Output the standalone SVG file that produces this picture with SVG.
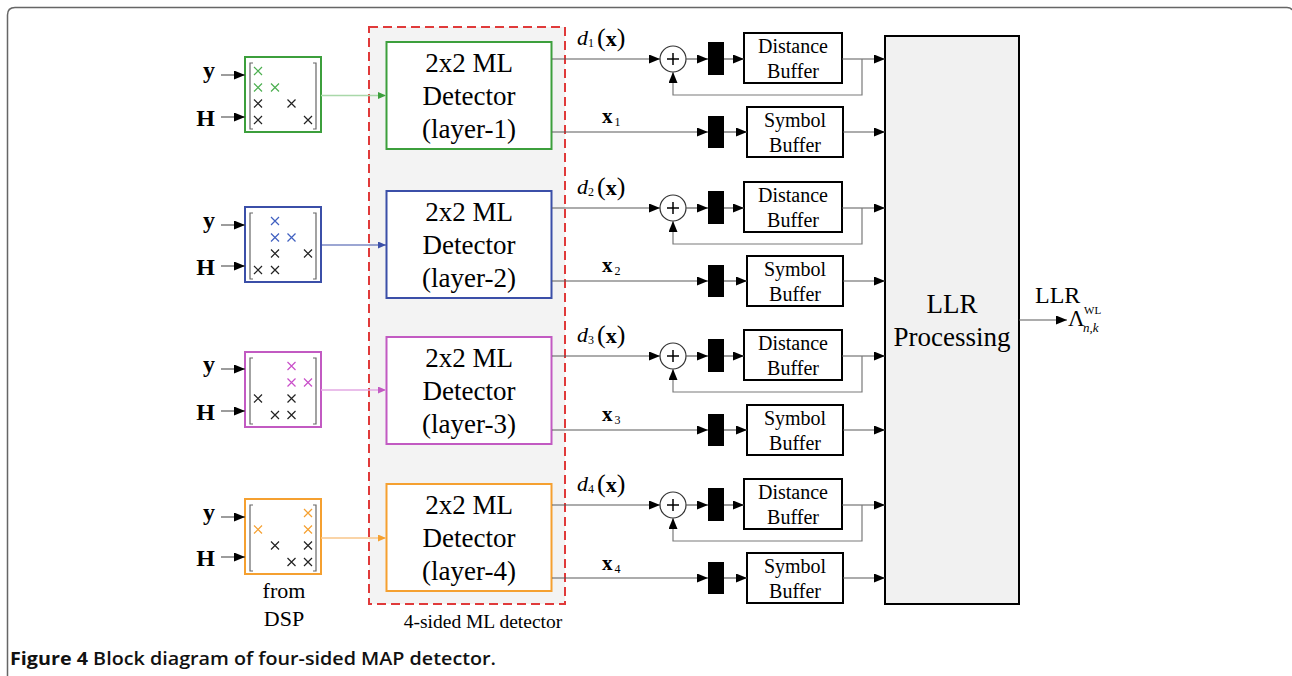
<svg xmlns="http://www.w3.org/2000/svg" width="1292" height="676" viewBox="0 0 1292 676">
  <style>
    .serif { font-family: "Liberation Serif", "Times New Roman", serif; fill: #000; }
    .lbl { font-size: 27px; text-anchor: middle; }
    .buf { font-size: 20px; text-anchor: middle; }
    .in { font-size: 24px; font-weight: bold; text-anchor: end; }
    .wire { stroke: #5a5a5a; stroke-width: 1.2; fill: none; }
    .fb { stroke: #7a7a7a; stroke-width: 1.2; fill: none; }
    .box { fill: #fff; stroke: #000; stroke-width: 2; }
    .bar { fill: #000; }
    .brk { stroke: #666; stroke-width: 1.2; fill: none; }
    .k { stroke: #222; stroke-width: 1.2; }
    .g { stroke: #4caf50; stroke-width: 1.2; }
    .b { stroke: #4060c0; stroke-width: 1.2; }
    .m { stroke: #c94fc9; stroke-width: 1.2; }
    .o { stroke: #f5a030; stroke-width: 1.2; }
  </style>
  <defs>
    <marker id="ah" markerUnits="userSpaceOnUse" markerWidth="11" markerHeight="9" refX="11" refY="4.5" orient="auto">
      <path d="M0,0 L11,4.5 L0,9 z" fill="#000"/>
    </marker>
    <marker id="ahG" markerUnits="userSpaceOnUse" markerWidth="8" markerHeight="7" refX="8" refY="3.5" orient="auto">
      <path d="M0,0 L8,3.5 L0,7 z" fill="#3c9f3c"/>
    </marker>
    <marker id="ahB" markerUnits="userSpaceOnUse" markerWidth="8" markerHeight="7" refX="8" refY="3.5" orient="auto">
      <path d="M0,0 L8,3.5 L0,7 z" fill="#3b4fa8"/>
    </marker>
    <marker id="ahM" markerUnits="userSpaceOnUse" markerWidth="8" markerHeight="7" refX="8" refY="3.5" orient="auto">
      <path d="M0,0 L8,3.5 L0,7 z" fill="#c25ac2"/>
    </marker>
    <marker id="ahO" markerUnits="userSpaceOnUse" markerWidth="8" markerHeight="7" refX="8" refY="3.5" orient="auto">
      <path d="M0,0 L8,3.5 L0,7 z" fill="#f5a030"/>
    </marker>
    <path id="xc" d="M-4,-4 L4,4 M4,-4 L-4,4"/>
  </defs>

  <!-- figure frame -->
  <path d="M7.5,676 V15 Q7.5,7.5 15,7.5 H1287 Q1291,7.5 1292,10" fill="none" stroke="#666" stroke-width="1.5"/>

  <!-- dashed container for the four detectors -->
  <g id="ml-detector-group">
    <rect x="369" y="27" width="196" height="577" fill="#f3f3f3" stroke="#e03a3a" stroke-width="2" stroke-dasharray="9,5"/>
    <text class="serif" x="483" y="628" font-size="19.5" text-anchor="middle">4-sided ML detector</text>
  </g>

  <!-- input labels -->
  <g id="inputs" class="serif">
    <text class="serif in" x="215" y="78">y</text>
    <text class="serif in" x="215" y="126">H</text>
    <text class="serif in" x="215" y="228">y</text>
    <text class="serif in" x="215" y="275">H</text>
    <text class="serif in" x="215" y="372">y</text>
    <text class="serif in" x="215" y="420">H</text>
    <text class="serif in" x="215" y="520">y</text>
    <text class="serif in" x="215" y="566">H</text>
    <text class="serif" x="284" y="598" font-size="22" text-anchor="middle">from</text>
    <text class="serif" x="284" y="626" font-size="22" text-anchor="middle">DSP</text>
  </g>

  <!-- matrix blocks -->
  <g id="matrix-1">
    <rect x="245" y="57" width="76" height="75" fill="#fff" stroke="#3c9f3c" stroke-width="2"/>
    <path class="brk" d="M253,63 H250 V129 H253 M313,63 H316 V129 H313"/>
    <use href="#xc" class="g" x="258" y="71"/>
    <use href="#xc" class="g" x="258" y="87.5"/>
    <use href="#xc" class="g" x="275" y="87.5"/>
    <use href="#xc" class="k" x="258" y="103.5"/>
    <use href="#xc" class="k" x="291.5" y="103.5"/>
    <use href="#xc" class="k" x="258" y="120"/>
    <use href="#xc" class="k" x="308" y="120"/>
  </g>
  <g id="matrix-2">
    <rect x="245" y="207" width="76" height="75" fill="#fff" stroke="#3b4fa8" stroke-width="2"/>
    <path class="brk" d="M253,213 H250 V279 H253 M313,213 H316 V279 H313"/>
    <use href="#xc" class="b" x="275" y="221"/>
    <use href="#xc" class="b" x="275" y="237.5"/>
    <use href="#xc" class="b" x="291.5" y="237.5"/>
    <use href="#xc" class="k" x="275" y="253.5"/>
    <use href="#xc" class="k" x="308" y="253.5"/>
    <use href="#xc" class="k" x="258" y="270"/>
    <use href="#xc" class="k" x="275" y="270"/>
  </g>
  <g id="matrix-3">
    <rect x="245" y="352" width="76" height="75" fill="#fff" stroke="#c25ac2" stroke-width="2"/>
    <path class="brk" d="M253,358 H250 V424 H253 M313,358 H316 V424 H313"/>
    <use href="#xc" class="m" x="291.5" y="366"/>
    <use href="#xc" class="m" x="291.5" y="382.5"/>
    <use href="#xc" class="m" x="308" y="382.5"/>
    <use href="#xc" class="k" x="258" y="398.5"/>
    <use href="#xc" class="k" x="291.5" y="398.5"/>
    <use href="#xc" class="k" x="275" y="415"/>
    <use href="#xc" class="k" x="291.5" y="415"/>
  </g>
  <g id="matrix-4">
    <rect x="245" y="499" width="76" height="75" fill="#fff" stroke="#f5a030" stroke-width="2"/>
    <path class="brk" d="M253,505 H250 V571 H253 M313,505 H316 V571 H313"/>
    <use href="#xc" class="o" x="308" y="513"/>
    <use href="#xc" class="o" x="258" y="529.5"/>
    <use href="#xc" class="o" x="308" y="529.5"/>
    <use href="#xc" class="k" x="275" y="545.5"/>
    <use href="#xc" class="k" x="308" y="545.5"/>
    <use href="#xc" class="k" x="291.5" y="562"/>
    <use href="#xc" class="k" x="308" y="562"/>
  </g>

  <!-- 2x2 ML detectors -->
  <g id="detector-1">
    <rect x="386.5" y="42" width="165" height="107" fill="#fff" stroke="#3c9f3c" stroke-width="2"/>
    <text class="serif lbl" x="469" y="72">2x2 ML</text>
    <text class="serif lbl" x="469" y="105">Detector</text>
    <text class="serif lbl" x="469" y="138">(layer-1)</text>
  </g>
  <g id="detector-2">
    <rect x="386.5" y="191" width="165" height="107" fill="#fff" stroke="#3b4fa8" stroke-width="2"/>
    <text class="serif lbl" x="469" y="221">2x2 ML</text>
    <text class="serif lbl" x="469" y="254">Detector</text>
    <text class="serif lbl" x="469" y="287">(layer-2)</text>
  </g>
  <g id="detector-3">
    <rect x="386.5" y="337" width="165" height="107" fill="#fff" stroke="#c25ac2" stroke-width="2"/>
    <text class="serif lbl" x="469" y="367">2x2 ML</text>
    <text class="serif lbl" x="469" y="400">Detector</text>
    <text class="serif lbl" x="469" y="433">(layer-3)</text>
  </g>
  <g id="detector-4">
    <rect x="386.5" y="484" width="165" height="107" fill="#fff" stroke="#f5a030" stroke-width="2"/>
    <text class="serif lbl" x="469" y="514">2x2 ML</text>
    <text class="serif lbl" x="469" y="547">Detector</text>
    <text class="serif lbl" x="469" y="580">(layer-4)</text>
  </g>

  <!-- adders, registers and buffers per layer -->
  <g id="stage-1">
    <circle cx="673" cy="59" r="13" fill="#fff" stroke="#333" stroke-width="1.2"/>
    <path d="M667,59 H679 M673,53 V65" stroke="#000" stroke-width="1.5"/>
    <rect class="bar" x="708" y="42" width="16" height="33"/>
    <rect class="box" x="744" y="33" width="98" height="50"/>
    <text class="serif buf" x="793" y="53">Distance</text>
    <text class="serif buf" x="793" y="78">Buffer</text>
    <rect class="bar" x="708" y="116" width="16" height="32"/>
    <rect class="box" x="747" y="107" width="96" height="50"/>
    <text class="serif buf" x="795" y="127">Symbol</text>
    <text class="serif buf" x="795" y="152">Buffer</text>
  </g>
  <g id="stage-2">
    <circle cx="673" cy="208" r="13" fill="#fff" stroke="#333" stroke-width="1.2"/>
    <path d="M667,208 H679 M673,202 V214" stroke="#000" stroke-width="1.5"/>
    <rect class="bar" x="708" y="191" width="16" height="33"/>
    <rect class="box" x="744" y="182" width="98" height="50"/>
    <text class="serif buf" x="793" y="202">Distance</text>
    <text class="serif buf" x="793" y="227">Buffer</text>
    <rect class="bar" x="708" y="265" width="16" height="32"/>
    <rect class="box" x="747" y="256" width="96" height="50"/>
    <text class="serif buf" x="795" y="276">Symbol</text>
    <text class="serif buf" x="795" y="301">Buffer</text>
  </g>
  <g id="stage-3">
    <circle cx="673" cy="356" r="13" fill="#fff" stroke="#333" stroke-width="1.2"/>
    <path d="M667,356 H679 M673,350 V362" stroke="#000" stroke-width="1.5"/>
    <rect class="bar" x="708" y="339" width="16" height="33"/>
    <rect class="box" x="744" y="330" width="98" height="50"/>
    <text class="serif buf" x="793" y="350">Distance</text>
    <text class="serif buf" x="793" y="375">Buffer</text>
    <rect class="bar" x="708" y="414" width="16" height="32"/>
    <rect class="box" x="747" y="405" width="96" height="50"/>
    <text class="serif buf" x="795" y="425">Symbol</text>
    <text class="serif buf" x="795" y="450">Buffer</text>
  </g>
  <g id="stage-4">
    <circle cx="673" cy="505" r="13" fill="#fff" stroke="#333" stroke-width="1.2"/>
    <path d="M667,505 H679 M673,499 V511" stroke="#000" stroke-width="1.5"/>
    <rect class="bar" x="708" y="488" width="16" height="33"/>
    <rect class="box" x="744" y="479" width="98" height="50"/>
    <text class="serif buf" x="793" y="499">Distance</text>
    <text class="serif buf" x="793" y="524">Buffer</text>
    <rect class="bar" x="708" y="562" width="16" height="32"/>
    <rect class="box" x="747" y="553" width="96" height="50"/>
    <text class="serif buf" x="795" y="573">Symbol</text>
    <text class="serif buf" x="795" y="598">Buffer</text>
  </g>

  <!-- LLR processing -->
  <g id="llr">
    <rect x="885" y="36" width="134" height="568" fill="#f1f1f1" stroke="#000" stroke-width="2"/>
    <text class="serif" x="952" y="313" font-size="27" text-anchor="middle">LLR</text>
    <text class="serif" x="952" y="346" font-size="27" text-anchor="middle">Processing</text>
  </g>
  <g id="llr-output" class="serif">
    <text class="serif" x="1035" y="303" font-size="24">LLR</text>
    <text class="serif" x="1068" y="326" font-size="23">Λ</text>
    <text class="serif" x="1084" y="314" font-size="11">WL</text>
    <text class="serif" x="1083" y="332" font-size="13" font-style="italic">n,k</text>
  </g>

  <!-- signal labels -->
  <g id="signal-labels" class="serif">
    <text class="serif" x="577" y="45"><tspan font-size="22" font-style="italic">d</tspan><tspan font-size="12" dy="2">1</tspan><tspan font-size="26" dy="-1" dx="3">(</tspan><tspan font-size="22" font-weight="bold">x</tspan><tspan font-size="26">)</tspan></text>
    <text class="serif" x="577" y="194"><tspan font-size="22" font-style="italic">d</tspan><tspan font-size="12" dy="2">2</tspan><tspan font-size="26" dy="-1" dx="3">(</tspan><tspan font-size="22" font-weight="bold">x</tspan><tspan font-size="26">)</tspan></text>
    <text class="serif" x="577" y="342"><tspan font-size="22" font-style="italic">d</tspan><tspan font-size="12" dy="2">3</tspan><tspan font-size="26" dy="-1" dx="3">(</tspan><tspan font-size="22" font-weight="bold">x</tspan><tspan font-size="26">)</tspan></text>
    <text class="serif" x="577" y="491"><tspan font-size="22" font-style="italic">d</tspan><tspan font-size="12" dy="2">4</tspan><tspan font-size="26" dy="-1" dx="3">(</tspan><tspan font-size="22" font-weight="bold">x</tspan><tspan font-size="26">)</tspan></text>
    <text class="serif" x="602" y="123"><tspan font-size="21" font-weight="bold">x</tspan><tspan font-size="12" dy="3" dx="2">1</tspan></text>
    <text class="serif" x="602" y="272"><tspan font-size="21" font-weight="bold">x</tspan><tspan font-size="12" dy="3" dx="2">2</tspan></text>
    <text class="serif" x="602" y="421"><tspan font-size="21" font-weight="bold">x</tspan><tspan font-size="12" dy="3" dx="2">3</tspan></text>
    <text class="serif" x="602" y="570"><tspan font-size="21" font-weight="bold">x</tspan><tspan font-size="12" dy="3" dx="2">4</tspan></text>
  </g>

  <!-- connectors -->
  <g id="connectors">
    <!-- inputs into matrix blocks -->
    <path class="wire" stroke="#222" marker-end="url(#ah)" d="M221,75 H245"/>
    <path class="wire" stroke="#222" marker-end="url(#ah)" d="M221,117 H245"/>
    <path class="wire" stroke="#222" marker-end="url(#ah)" d="M221,225 H245"/>
    <path class="wire" stroke="#222" marker-end="url(#ah)" d="M221,266 H245"/>
    <path class="wire" stroke="#222" marker-end="url(#ah)" d="M221,369 H245"/>
    <path class="wire" stroke="#222" marker-end="url(#ah)" d="M221,411 H245"/>
    <path class="wire" stroke="#222" marker-end="url(#ah)" d="M221,517 H245"/>
    <path class="wire" stroke="#222" marker-end="url(#ah)" d="M221,557 H245"/>
    <!-- matrix blocks into detectors -->
    <path d="M321,95.5 H386" stroke="#a9d8a9" stroke-width="1.5" fill="none" marker-end="url(#ahG)"/>
    <path d="M321,245 H386" stroke="#3b4fa8" stroke-width="1.2" fill="none" marker-end="url(#ahB)"/>
    <path d="M321,390 H386" stroke="#e3a8e3" stroke-width="1.5" fill="none" marker-end="url(#ahM)"/>
    <path d="M321,538 H386" stroke="#f9c68a" stroke-width="1.5" fill="none" marker-end="url(#ahO)"/>

    <!-- layer 1 -->
    <path class="wire" marker-end="url(#ah)" d="M552,59 H660"/>
    <path class="wire" marker-end="url(#ah)" d="M686,59 H708"/>
    <path class="wire" marker-end="url(#ah)" d="M724,59 H744"/>
    <path class="wire" marker-end="url(#ah)" d="M842,59 H885"/>
    <path class="fb" marker-end="url(#ah)" d="M862,59 V95 H673 V72"/>
    <path class="wire" marker-end="url(#ah)" d="M552,132 H708"/>
    <path class="wire" marker-end="url(#ah)" d="M724,132 H747"/>
    <path class="wire" marker-end="url(#ah)" d="M843,132 H885"/>
    <!-- layer 2 -->
    <path class="wire" marker-end="url(#ah)" d="M552,208 H660"/>
    <path class="wire" marker-end="url(#ah)" d="M686,208 H708"/>
    <path class="wire" marker-end="url(#ah)" d="M724,208 H744"/>
    <path class="wire" marker-end="url(#ah)" d="M842,208 H885"/>
    <path class="fb" marker-end="url(#ah)" d="M862,208 V244 H673 V221"/>
    <path class="wire" marker-end="url(#ah)" d="M552,281 H708"/>
    <path class="wire" marker-end="url(#ah)" d="M724,281 H747"/>
    <path class="wire" marker-end="url(#ah)" d="M843,281 H885"/>
    <!-- layer 3 -->
    <path class="wire" marker-end="url(#ah)" d="M552,356 H660"/>
    <path class="wire" marker-end="url(#ah)" d="M686,356 H708"/>
    <path class="wire" marker-end="url(#ah)" d="M724,356 H744"/>
    <path class="wire" marker-end="url(#ah)" d="M842,356 H885"/>
    <path class="fb" marker-end="url(#ah)" d="M862,356 V392 H673 V369"/>
    <path class="wire" marker-end="url(#ah)" d="M552,430 H708"/>
    <path class="wire" marker-end="url(#ah)" d="M724,430 H747"/>
    <path class="wire" marker-end="url(#ah)" d="M843,430 H885"/>
    <!-- layer 4 -->
    <path class="wire" marker-end="url(#ah)" d="M552,505 H660"/>
    <path class="wire" marker-end="url(#ah)" d="M686,505 H708"/>
    <path class="wire" marker-end="url(#ah)" d="M724,505 H744"/>
    <path class="wire" marker-end="url(#ah)" d="M842,505 H885"/>
    <path class="fb" marker-end="url(#ah)" d="M862,505 V541 H673 V518"/>
    <path class="wire" marker-end="url(#ah)" d="M552,578 H708"/>
    <path class="wire" marker-end="url(#ah)" d="M724,578 H747"/>
    <path class="wire" marker-end="url(#ah)" d="M843,578 H885"/>
    <!-- LLR output -->
    <path class="wire" marker-end="url(#ah)" d="M1019,320 H1067"/>
  </g>

  <!-- caption -->
  <text x="10" y="665" font-family="'Open Sans', 'Noto Sans', sans-serif" font-size="18.5" font-weight="bold" fill="#111" textLength="486" lengthAdjust="spacingAndGlyphs">Figure 4 <tspan font-weight="600">Block diagram of four-sided MAP detector.</tspan></text>
</svg>
